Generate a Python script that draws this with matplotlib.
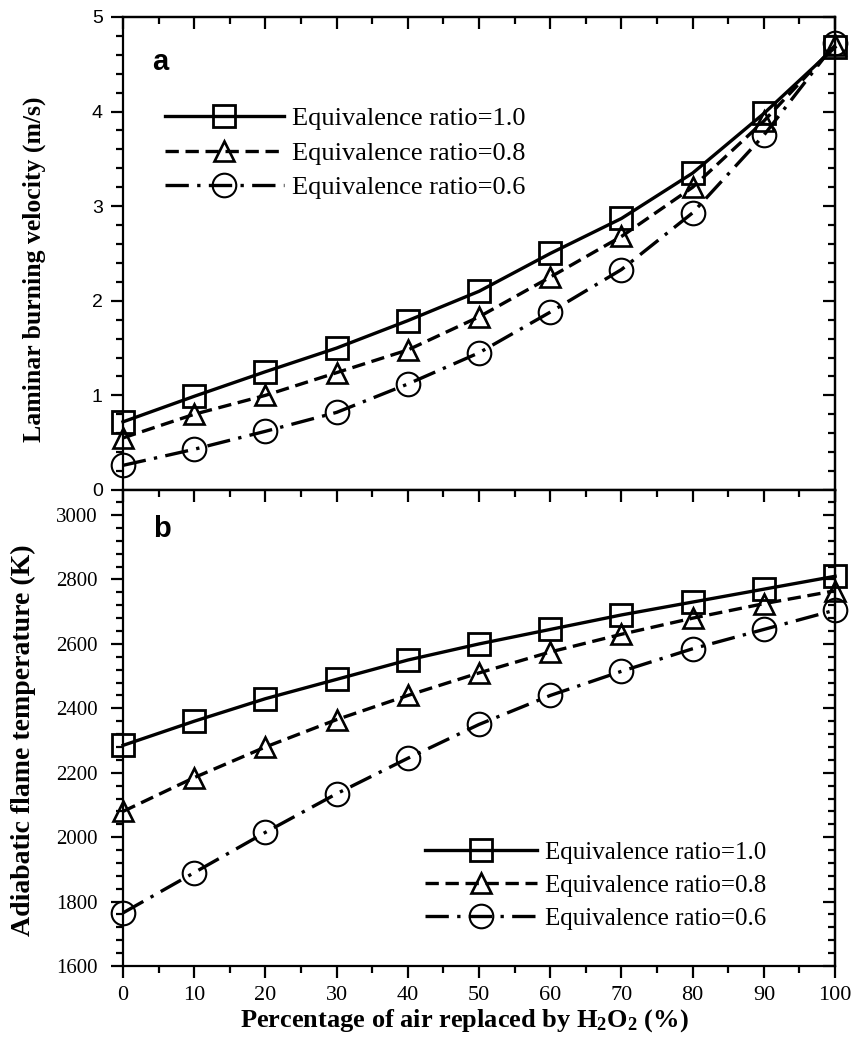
import numpy as np
import matplotlib
matplotlib.use("Agg")
import matplotlib.pyplot as plt
from matplotlib.ticker import MultipleLocator

plt.rcParams['font.family'] = ['Liberation Serif', 'DejaVu Serif']
plt.rcParams['mathtext.fontset'] = 'custom'
plt.rcParams['mathtext.rm'] = 'Liberation Serif:bold'
plt.rcParams['mathtext.bf'] = 'Liberation Serif:bold'
plt.rcParams['mathtext.it'] = 'Liberation Serif:bold:italic'

# percentage of air replaced by H2O2
pct = [0, 10, 20, 30, 40, 50, 60, 70, 80, 90, 100]

# laminar burning velocity (m/s)
su_10 = [0.72, 0.99, 1.25, 1.50, 1.79, 2.10, 2.50, 2.87, 3.35, 3.98, 4.68]
su_08 = [0.55, 0.80, 1.00, 1.24, 1.48, 1.83, 2.25, 2.68, 3.20, 3.90, 4.70]
su_06 = [0.26, 0.43, 0.62, 0.82, 1.12, 1.45, 1.88, 2.33, 2.93, 3.75, 4.72]

# adiabatic flame temperature (K)
t_10 = [2285, 2360, 2430, 2490, 2550, 2600, 2645, 2690, 2730, 2770, 2810]
t_08 = [2080, 2185, 2280, 2365, 2440, 2510, 2575, 2630, 2680, 2725, 2765]
t_06 = [1765, 1890, 2015, 2135, 2245, 2350, 2440, 2515, 2585, 2645, 2705]

labels = ["Equivalence ratio=1.0", "Equivalence ratio=0.8", "Equivalence ratio=0.6"]


def draw_series(ax, ys):
    styles = [
        dict(marker='s', ms=16.5, mew=2.0, ls='-'),
        dict(marker='^', ms=14, mew=1.9, ls=(0, (4, 2))),
        dict(marker='o', ms=17, mew=1.5, ls=(0, (7, 2.5, 1, 2.5))),
    ]
    for y, st, lab in zip(ys, styles, labels):
        ax.plot(pct, y, color='black', lw=2.4, mfc='none', mec='black',
                clip_on=False, label=lab, **st)


def style_axes(ax, ymaj, ymin, tickfont, ypad):
    ax.set_xlim(0, 100)
    ax.xaxis.set_major_locator(MultipleLocator(10))
    ax.xaxis.set_minor_locator(MultipleLocator(5))
    ax.yaxis.set_major_locator(MultipleLocator(ymaj))
    ax.yaxis.set_minor_locator(MultipleLocator(ymin))
    for sp in ax.spines.values():
        sp.set_linewidth(1.6)
    ax.tick_params(which='both', direction='out', width=1.6, top=False, right=False)
    ax.tick_params(which='major', length=8.5)
    ax.tick_params(which='minor', length=5)
    ax.tick_params(axis='y', pad=ypad)
    for t in ax.get_yticklabels():
        t.set_fontfamily(tickfont[0])
        t.set_fontsize(tickfont[1])
    # inward ticks on top and right
    top = ax.secondary_xaxis('top')
    top.xaxis.set_major_locator(MultipleLocator(10))
    top.xaxis.set_minor_locator(MultipleLocator(5))
    top.tick_params(which='both', direction='in', width=1.6, labeltop=False)
    top.tick_params(which='major', length=8.5)
    top.tick_params(which='minor', length=5)
    top.spines['top'].set_linewidth(1.6)
    right = ax.secondary_yaxis('right')
    right.yaxis.set_major_locator(MultipleLocator(ymaj))
    right.yaxis.set_minor_locator(MultipleLocator(ymin))
    right.tick_params(which='both', direction='in', width=1.6, labelright=False)
    right.tick_params(which='major', length=8.5)
    right.tick_params(which='minor', length=5)
    right.spines['right'].set_linewidth(1.6)


fig = plt.figure(figsize=(8.53, 10.42), dpi=100)
L, R = 0.1442, 0.979
ax1 = fig.add_axes([L, 0.5298, R - L, 0.9837 - 0.5298])
ax2 = fig.add_axes([L, 0.0729, R - L, 0.5298 - 0.0729])

leg_kw = dict(loc='upper left', frameon=False, handlelength=4.5,
              handletextpad=0.3, labelspacing=0.42, borderpad=0,
              borderaxespad=0, numpoints=1)

draw_series(ax1, [su_10, su_08, su_06])
ax1.set_ylim(0, 5)
style_axes(ax1, 1, 0.2, ('Liberation Sans', 14), 6)
ax1.tick_params(axis='x', labelbottom=False)
ax1.set_ylabel("Laminar burning velocity (m/s)", fontsize=18.5, fontweight='bold')
ax1.yaxis.set_label_coords(-0.108, 0.466)
ax1.text(0.052, 0.905, "a", transform=ax1.transAxes, fontsize=21,
         fontweight='bold', family='Liberation Sans', ha='center', va='center')
ax1.legend(bbox_to_anchor=(0.059, 0.81), fontsize=19, **leg_kw)

draw_series(ax2, [t_10, t_08, t_06])
ax2.set_ylim(1600, 3078)
style_axes(ax2, 200, 40, ('Liberation Serif', 15), 10)
for t in ax2.get_xticklabels():
    t.set_fontsize(16)
ax2.tick_params(axis='x', pad=6)
ax2.set_ylabel("Adiabatic flame temperature (K)", fontsize=20, fontweight='bold')
ax2.yaxis.set_label_coords(-0.122, 0.475)
ax2.set_xlabel(r"Percentage of air replaced by H$_\mathrm{2}$O$_\mathrm{2}$ (%)",
               fontsize=19, fontweight='bold')
ax2.xaxis.set_label_coords(0.479, -0.086)
ax2.xaxis.label.set_va('top')
ax2.text(0.055, 0.918, "b", transform=ax2.transAxes, fontsize=21,
         fontweight='bold', family='Liberation Sans', ha='center', va='center')
ax2.legend(bbox_to_anchor=(0.424, 0.262), fontsize=18, **leg_kw)

fig.savefig("out.png", dpi=100)
